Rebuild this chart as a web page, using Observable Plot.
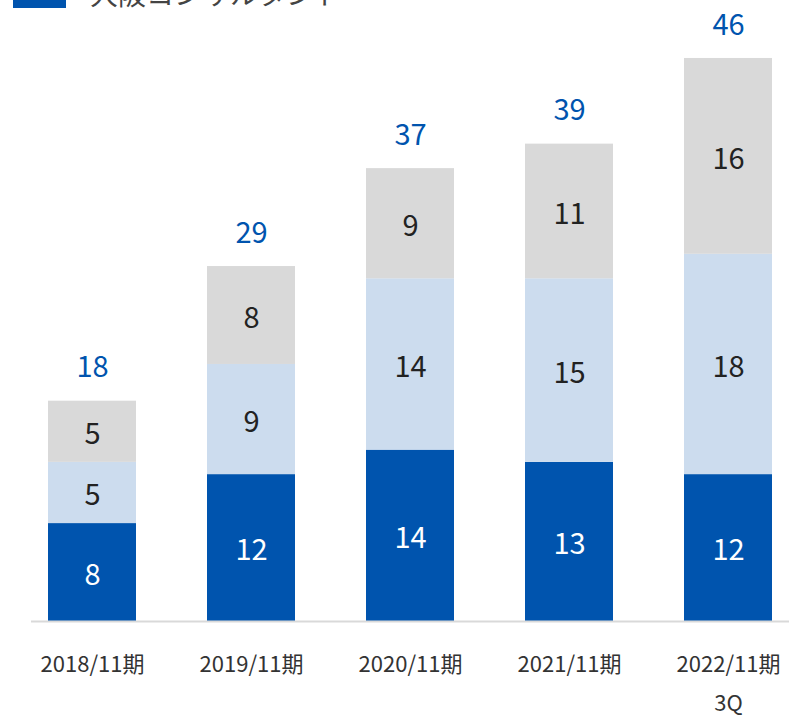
<!DOCTYPE html>
<html>
<head>
<meta charset="utf-8">
<script src="https://cdn.jsdelivr.net/npm/d3@7"></script>
<script src="https://cdn.jsdelivr.net/npm/@observablehq/plot@0.6"></script>
<style>
  html, body { margin: 0; padding: 0; background: #fff; overflow: hidden; }
  #wrap { position: relative; width: 799px; height: 717px; font-family: "Noto Sans CJK JP", "Noto Sans", sans-serif; }
  #legend { position: absolute; left: 13px; top: -22px; display: flex; align-items: center; }
  #legend .sw { width: 53px; height: 30px; background: #0054ae; margin-right: 24px; }
  #legend .lb { font-size: 28px; color: #444; line-height: 30px; }
  #chart { position: absolute; left: 0; top: 0; }
</style>
</head>
<body>
<div id="wrap">
  <div id="chart"></div>
  <div id="legend"><div class="sw"></div><div class="lb">大阪コンサルタント</div></div>
</div>
<script>
const periods = ["2018/11期", "2019/11期", "2020/11期", "2021/11期", "2022/11期\n3Q"];
const seriesNames = ["大阪コンサルタント", "その他A", "その他B"];
const osaka = [8, 12, 14, 13, 12];
const middle = [5, 9, 14, 15, 18];
const upper = [5, 8, 9, 11, 16];
const totals = [18, 29, 37, 39, 46];
const colors = ["#0054ae", "#ccdcee", "#d9d9d9"];
const labelColors = ["#ffffff", "#222222", "#222222"];

const rows = [];
[osaka, middle, upper].forEach((vals, s) => {
  vals.forEach((v, i) => rows.push({period: periods[i], series: seriesNames[s], value: v, s}));
});
const totalRows = periods.map((p, i) => ({period: p, total: totals[i]}));

const chart = Plot.plot({
  width: 799,
  height: 717,
  marginTop: 9,
  marginBottom: 96,
  marginLeft: 31,
  marginRight: 10,
  style: {fontFamily: '"Noto Sans CJK JP", "Noto Sans", sans-serif', background: "transparent"},
  x: {domain: periods, paddingInner: 0.448, paddingOuter: 0.1, label: null},
  y: {domain: [0, 50], axis: null},
  color: {domain: seriesNames, range: colors},
  marks: [
    Plot.barY(rows, {x: "period", y: "value", fill: "series", order: seriesNames}),
    Plot.ruleY([0], {stroke: "#d9d9d9", strokeWidth: 2}),
    Plot.axisX({tickSize: 0, tickPadding: 23, fontSize: 22, lineHeight: 1.77, fill: "#333", label: null}),
    Plot.text(rows, Plot.stackY({x: "period", y: "value", z: "series", order: seriesNames, text: d => String(d.value), fill: d => labelColors[d.s], fontSize: 29, dy: 3})),
    Plot.text(totalRows, {x: "period", y: "total", text: d => String(d.total), fill: "#0054ae", fontSize: 29, dy: -33})
  ]
});
document.getElementById("chart").appendChild(chart);
</script>
</body>
</html>
